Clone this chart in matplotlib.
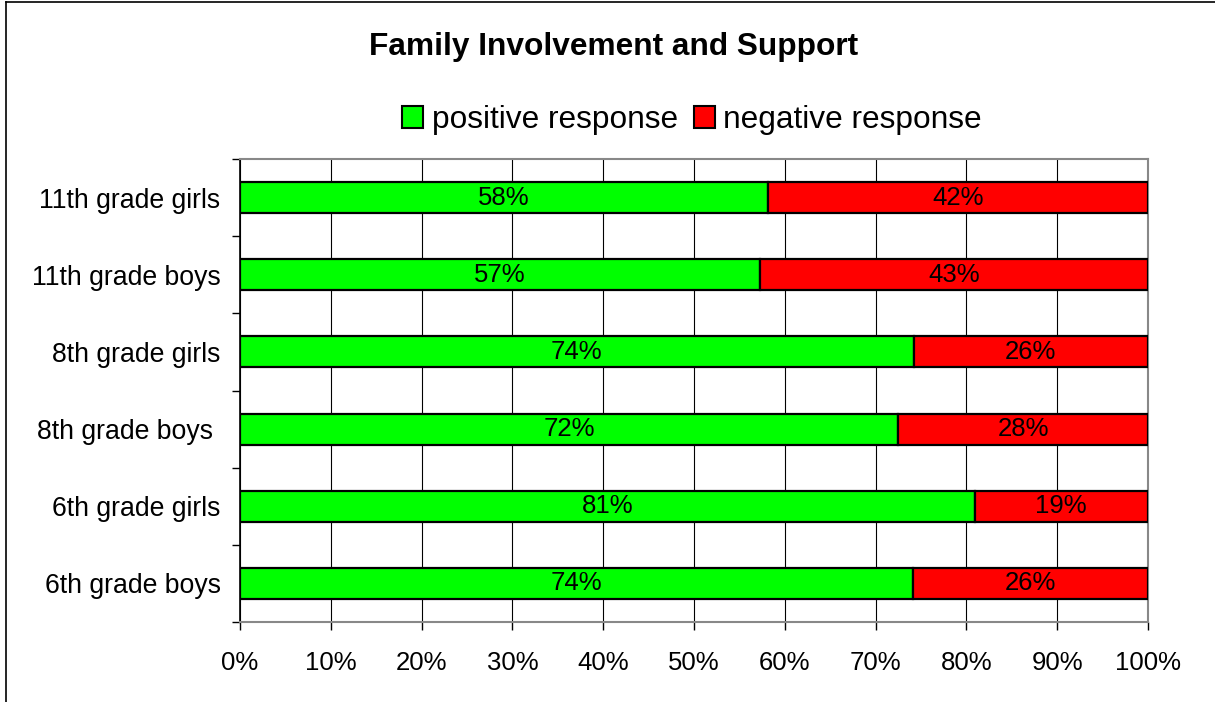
import matplotlib
matplotlib.use("Agg")
import matplotlib.pyplot as plt
from matplotlib.lines import Line2D
from matplotlib.patches import Patch

plt.rcParams['font.family'] = ['Liberation Sans', 'DejaVu Sans']

categories = ["6th grade boys", "6th grade girls", "8th grade boys ",
              "8th grade girls", "11th grade boys", "11th grade girls"]
positive = [74.1, 80.9, 72.5, 74.2, 57.3, 58.1]
negative = [25.9, 19.1, 27.5, 25.8, 42.7, 41.9]
series_names = ["positive response", "negative response"]
xticks = [0, 10, 20, 30, 40, 50, 60, 70, 80, 90, 100]
title = "Family Involvement and Support"

W, H = 1215, 702
fig = plt.figure(figsize=(W / 100, H / 100), dpi=100)
ax = fig.add_axes([240 / W, 1 - 622 / H, (1148 - 240) / W, (622 - 159) / H])

y = list(range(len(categories)))
green = "#00FF00"
red = "#FF0000"
ax.barh(y, positive, height=0.4, color=green, edgecolor="black", linewidth=1.6, zorder=3)
ax.barh(y, negative, left=positive, height=0.4, color=red, edgecolor="black", linewidth=1.6, zorder=3)

for i in y:
    ax.text(positive[i] / 2, i, f"{round(positive[i])}%", ha="center", va="center",
            fontsize=18.5, zorder=4)
    ax.text(positive[i] + negative[i] / 2, i, f"{round(negative[i])}%", ha="center",
            va="center", fontsize=18.5, zorder=4)

ax.set_xlim(0, 100)
ax.set_ylim(-0.5, len(categories) - 0.5)
ax.set_xticks(xticks)
ax.set_xticklabels([f"{t}%" for t in xticks], fontsize=18.5)
ax.set_yticks(y)
ax.set_yticklabels(categories, fontsize=19.2)
ax.set_yticks([i - 0.5 for i in range(len(categories) + 1)], minor=True)
ax.tick_params(axis="y", which="major", length=0, pad=14)
ax.tick_params(axis="y", which="minor", length=6, width=1, color="black", direction="out")
ax.tick_params(axis="x", which="major", length=6, width=1, color="black", direction="out", pad=15)

ax.xaxis.grid(True, color="black", linewidth=0.8, zorder=0)
ax.set_axisbelow(True)

for s in ["top", "right", "bottom"]:
    ax.spines[s].set_color("#888888")
    ax.spines[s].set_linewidth(1.5)
ax.spines["left"].set_color("black")
ax.spines["left"].set_linewidth(1.2)

fig.text(614 / W, 1 - 55 / H, title, ha="center", va="baseline", fontsize=22.8,
         fontweight="bold")

handles = [Patch(facecolor=green, edgecolor="black", linewidth=1.5),
           Patch(facecolor=red, edgecolor="black", linewidth=1.5)]
fig.legend(handles, series_names, loc="center", bbox_to_anchor=(692 / W, 1 - 120 / H),
           ncol=2, frameon=False, fontsize=22.8, handlelength=0.66, handleheight=0.66,
           handletextpad=0.28, columnspacing=0.5, borderpad=0, borderaxespad=0)

# figure border (left and top edges)
fig.add_artist(Line2D([6 / W, 6 / W], [0, 1 - 2 / H], color="black", linewidth=1.2,
                      transform=fig.transFigure))
fig.add_artist(Line2D([6 / W, 1], [1 - 2 / H, 1 - 2 / H], color="black", linewidth=1.2,
                      transform=fig.transFigure))

fig.savefig("out.png", dpi=100)
